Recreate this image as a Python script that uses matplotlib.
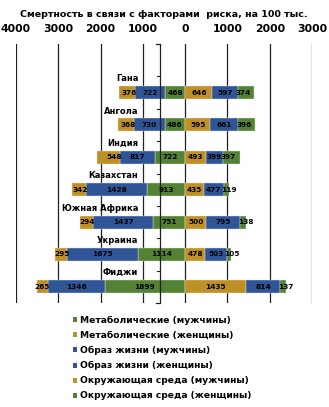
import matplotlib
matplotlib.use("Agg")
import matplotlib.pyplot as plt
from matplotlib.patches import Patch

plt.rcParams["font.family"] = ["DejaVu Sans"]
plt.rcParams["font.weight"] = "bold"

countries = ["Гана", "Ангола", "Индия", "Казахстан", "Южная Африка", "Украина", "Фиджи"]
men_metab = [468, 486, 722, 913, 751, 1114, 1899]
men_life = [722, 730, 817, 1428, 1437, 1675, 1346]
men_env = [376, 368, 548, 342, 294, 295, 265]
women_metab = [646, 595, 493, 435, 500, 478, 1435]
women_life = [597, 661, 399, 477, 795, 503, 814]
women_env = [374, 396, 397, 119, 138, 105, 137]

xticks = [-4000, -3000, -2000, -1000, 0, 1000, 2000, 3000]

GREEN = "#548235"
GOLD = "#BF9028"
BLUE = "#2F5597"

fig = plt.figure(figsize=(3.29, 4.07), dpi=100)
ax = fig.add_axes([16 / 329, 1 - 303 / 407, 296 / 329, 259 / 407])

# row 0 stays empty, countries go in rows 1..7
rows = list(range(1, len(countries) + 1))
h = 0.4


def stack(ax, values_list, colors, sign):
    left = [0] * len(rows)
    for k, (vals, col) in enumerate(zip(values_list, colors)):
        starts = [sign * l for l in left]
        widths = [sign * v for v in vals]
        ax.barh(rows, widths, left=starts, height=h, color=col,
                edgecolor="#dfe6d8", linewidth=0.3, zorder=3)
        outer = k == len(values_list) - 1
        for r, s, v in zip(rows, starts, vals):
            if outer:
                # outer segment: label sits at the inner base
                ax.text(s - sign * 50, r, str(v), ha="right" if sign < 0 else "left",
                        va="center", fontsize=5.3, color="black", zorder=5)
            else:
                ax.text(s + sign * v / 2, r, str(v), ha="center", va="center",
                        fontsize=5.3, color="black", zorder=5)
        left = [l + v for l, v in zip(left, vals)]


stack(ax, [men_metab, men_life, men_env], [GREEN, BLUE, GOLD], -1)
stack(ax, [women_metab, women_life, women_env], [GOLD, BLUE, GREEN], 1)

for r, name in zip(rows, countries):
    ax.text(-1110, r - 0.43, name, ha="right", va="center", fontsize=6.0, zorder=5)

ax.set_xlim(-4000, 3000)
ax.set_ylim(7.5, -0.5)
ax.set_xticks(xticks)
ax.set_xticklabels([str(abs(t)) for t in xticks], fontsize=7.8)
ax.xaxis.tick_top()
ax.tick_params(axis="x", length=0, pad=7)
ax.set_yticks([])
for s in ax.spines.values():
    s.set_visible(False)
ax.grid(axis="x", color="#222222", linewidth=0.9, zorder=0)

# category axis line with boundary ticks
ax.axvline(-600, color="#222222", linewidth=0.9, zorder=4)
for b in [i - 0.5 for i in range(1, 8)]:
    ax.plot([-660, -600], [b, b], color="#222222", linewidth=0.8, zorder=4)
for b in [-0.5, 7.5]:
    ax.plot([-680, -600], [b, b], color="#222222", linewidth=0.9, zorder=4,
            clip_on=False)

fig.text(163.5 / 329, 1 - 14.5 / 407, "Смертность в связи с факторами  риска, на 100 тыс.",
         ha="center", va="center", fontsize=6.8)

labels = ["Метаболические (мужчины)", "Метаболические (женщины)",
          "Образ жизни (мужчины)", "Образ жизни (женщины)",
          "Окружающая среда (мужчины)", "Окружающая среда (женщины)"]
colors = [GREEN, GOLD, BLUE, BLUE, GOLD, GREEN]
handles = [Patch(facecolor=c, edgecolor="none") for c in colors]
fig.legend(handles, labels, loc="upper left", bbox_to_anchor=(73 / 329, 1 - 316 / 407),
           frameon=False, fontsize=6.6, handlelength=0.45, handleheight=0.45,
           handletextpad=0.3, labelspacing=0.66, borderpad=0, borderaxespad=0)

fig.savefig("out.png", dpi=100)
